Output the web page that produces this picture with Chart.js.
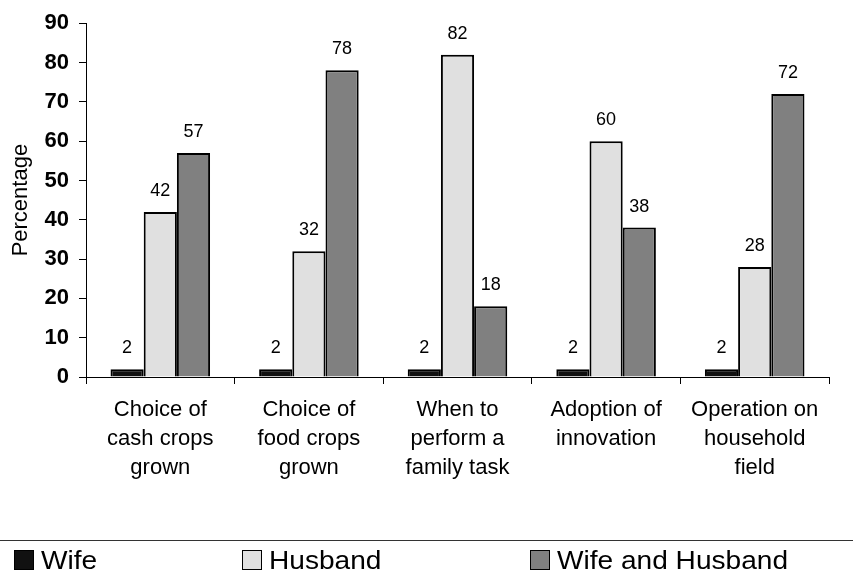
<!DOCTYPE html>
<html><head><meta charset="utf-8">
<script src="https://cdn.jsdelivr.net/npm/chart.js@4/dist/chart.umd.min.js"></script>
<style>
html,body{margin:0;padding:0;background:#fff;overflow:hidden;}
#wrap{position:relative;width:853px;height:573px;}
canvas{position:absolute;left:0;top:0;}
#legline{position:absolute;left:0;top:540px;width:853px;height:0;border-top:1.5px solid #333;}
.li{position:absolute;top:546px;height:28px;font-family:"Liberation Sans",Arial,sans-serif;font-size:26px;color:#000;white-space:nowrap;}
.li .box{position:absolute;left:0;top:4px;width:18px;height:18px;border:1px solid #000;}
.li .tx{position:absolute;left:27px;top:0;transform:scaleX(1.08);transform-origin:0 0;line-height:28px;}
</style></head>
<body><div id="wrap"><canvas id="c" width="853" height="573"></canvas><div id="legline"></div><div id="leg"></div></div>
<script>
const categories = [["Choice of","cash crops","grown"],["Choice of","food crops","grown"],["When to","perform a","family task"],["Adoption of","innovation"],["Operation on","household","field"]];
const seriesNames = ["Wife","Husband","Wife and Husband"];
const wife = [2,2,2,2,2];
const husband = [42,32,82,60,28];
const both = [57,78,18,38,72];
const colors = ["#111111","#e0e0e0","#808080"];
const legendX = [14,242,530];

const valueLabels = {
  id:'valueLabels',
  afterDatasetsDraw(chart){
    const ctx = chart.ctx;
    ctx.save();
    ctx.font = '18px "Liberation Sans", Arial, sans-serif';
    ctx.fillStyle = '#000';
    ctx.textAlign = 'center';
    ctx.textBaseline = 'middle';
    chart.data.datasets.forEach((ds,i)=>{
      chart.getDatasetMeta(i).data.forEach((bar,j)=>{
        ctx.fillText(String(ds.data[j]), bar.x, bar.y - 21);
      });
    });
    ctx.restore();
  }
};

new Chart(document.getElementById('c'),{
  type:'bar',
  data:{labels:categories,datasets:[
    {label:seriesNames[0],data:wife,backgroundColor:colors[0],borderColor:'#000',borderWidth:2},
    {label:seriesNames[1],data:husband,backgroundColor:colors[1],borderColor:'#000',borderWidth:2},
    {label:seriesNames[2],data:both,backgroundColor:colors[2],borderColor:'#000',borderWidth:2}
  ]},
  options:{
    responsive:false,animation:false,
    layout:{padding:{top:23,right:24,left:0,bottom:0}},
    plugins:{legend:{display:false},tooltip:{enabled:false}},
    datasets:{bar:{categoryPercentage:0.67,barPercentage:1.0}},
    scales:{
      x:{
        offset:true,
        grid:{display:true,offset:true,drawOnChartArea:false,drawTicks:true,tickLength:7,color:'#000',lineWidth:1},
        border:{display:true,color:'#000',width:1},
        ticks:{color:'#000',font:{family:'"Liberation Sans", Arial, sans-serif',size:22,lineHeight:1.32},maxRotation:0,autoSkip:false,padding:11},
        afterFit(s){s.height=196;}
      },
      y:{
        min:0,max:90,
        grid:{display:true,drawOnChartArea:false,drawTicks:true,tickLength:7,color:'#000',lineWidth:1},
        border:{display:true,color:'#000',width:1},
        ticks:{stepSize:10,color:'#000',font:{family:'"Liberation Sans", Arial, sans-serif',size:22,weight:'bold'},padding:10},
        title:{display:true,text:'Percentage',color:'#000',font:{family:'"Liberation Sans", Arial, sans-serif',size:22},padding:{top:8,bottom:4}},
        afterFit(s){s.width=86;}
      }
    }
  },
  plugins:[valueLabels]
});

const leg = document.getElementById('leg');
seriesNames.forEach((n,i)=>{
  const d=document.createElement('div');d.className='li';d.style.left=legendX[i]+'px';
  const b=document.createElement('div');b.className='box';b.style.background=colors[i];
  const t=document.createElement('span');t.className='tx';t.textContent=n;
  d.appendChild(b);d.appendChild(t);leg.appendChild(d);
});
</script></body></html>
